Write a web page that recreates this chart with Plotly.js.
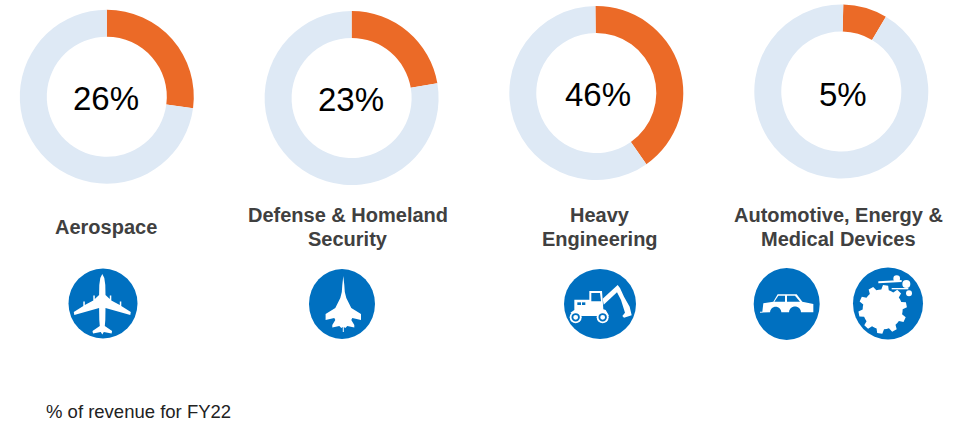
<!DOCTYPE html>
<html>
<head>
<meta charset="utf-8">
<script src="https://cdn.plot.ly/plotly-3.0.1.min.js"></script>
<style>html,body{margin:0;padding:0;background:#fff}#c{width:971px;height:421px}</style>
</head>
<body>
<div id="c"></div>
<script>
const W = 971, H = 421;
const categories = [["Aerospace"], ["Defense & Homeland", "Security"], ["Heavy", "Engineering"], ["Automotive, Energy &", "Medical Devices"]];
const centerLabels = ["26%", "23%", "46%", "5%"];
// shares as the arcs are actually drawn in the picture
const arcShare = [27.1, 22.3, 40.4, 8.2];
const arcRotation = [0, 0, -0.6, 1.3];
const footnote = "% of revenue for FY22";

const donutCx = [106.8, 351.6, 596.3, 841.3];
const donutCy = [96.7, 98, 93, 91.5];
const donutR = 87;
const labelX = [106, 348, 600, 838];
const labelY = [[226.5], [215, 239], [215, 239], [215, 239]];
const centerPos = [[106,98.5],[351,99.5],[597.5,95],[843,94.5]];

const ORANGE = "#EB6A27", PALE = "#DEE9F5", BLUE = "#0070C0", TEXT = "#404040";
const px = x => x / W, py = y => 1 - y / H;

const traces = arcShare.map((v, i) => ({
  type: "pie", values: [v, 100 - v], labels: ["Share", "Rest"], sort: false,
  direction: "clockwise", rotation: arcRotation[i], hole: 0.69, textinfo: "none",
  hoverinfo: "skip", showlegend: false,
  marker: {colors: [ORANGE, PALE], line: {width: 0}},
  domain: {x: [px(donutCx[i] - donutR), px(donutCx[i] + donutR)],
           y: [py(donutCy[i] + donutR), py(donutCy[i] - donutR)]}
}));

const annotations = [];
centerLabels.forEach((t, i) => annotations.push({text: t, xref: "paper", yref: "paper", showarrow: false,
  x: px(centerPos[i][0]), y: py(centerPos[i][1]), xanchor: "center", yanchor: "middle",
  font: {family: "Liberation Sans", size: 33, color: "#000"}}));
categories.forEach((lines, i) => lines.forEach((t, j) => annotations.push({text: "<b>" + t + "</b>", xref: "paper", yref: "paper", showarrow: false,
  x: px(labelX[i]), y: py(labelY[i][j]), xanchor: "center", yanchor: "middle", align: "center",
  font: {family: "Liberation Sans", size: 20, color: TEXT}})));
annotations.push({text: footnote, xref: "paper", yref: "paper", showarrow: false, x: px(43.5), y: py(411),
  xanchor: "left", yanchor: "middle", font: {family: "Liberation Sans", size: 18.5, color: "#222"}});

// ----- icon decoration helpers (pixel coordinates -> paper) -----
const shapes = [];
const ell = (cx, cy, rx, ry, col) => shapes.push({type: "circle", xref: "paper", yref: "paper",
  x0: px(cx - rx), x1: px(cx + rx), y0: py(cy + ry), y1: py(cy - ry), fillcolor: col, line: {width: 0}});
const poly = (pts, col) => shapes.push({type: "path", xref: "paper", yref: "paper", fillcolor: col, line: {width: 0},
  path: "M" + pts.map(p => px(p[0]) + " " + py(p[1])).join("L") + "Z"});
const mirrored = (cx, half) => half.map(p => [cx + p[0], p[1]]).concat(half.slice().reverse().map(p => [cx - p[0], p[1]]));
const z = (ox, oy, pts) => pts.map(p => [ox + p[0] / 3, oy + p[1] / 3]);

// aeroplane
ell(103, 303.5, 34.5, 35, BLUE);
poly(mirrored(102.3, [[0,274],[2,278],[3,285],[3.2,295],[7.5,299],[7.5,295.5],[9,295.5],[9,300.5],[17.5,305],[17.5,301.5],[19,301.5],[19,306],[28.5,312],[28,315],[3.2,308],[3,320],[2.5,326],[9.8,331],[9.3,333.5],[1.5,332],[0,334.5]]), "#fff");

// fighter jet
ell(342, 304, 33, 35, BLUE);
poly(mirrored(343.3, [[0,276],[1,285],[1.5,292],[3,298],[6,304],[8,308],[17.7,314],[17.7,320],[9,318],[8,320],[11,325],[11,327.5],[4,326],[2,328],[0.5,327],[0.5,332]]), "#fff");

// excavator
ell(600, 304, 36, 35, BLUE);
const ox = 555, oy = 260;
poly(z(ox, oy, [[103,93],[141,93],[145,148],[152,150],[162,167],[130,168],[80,168],[46,158],[58,150],[58,119],[103,119]]), "#fff");
poly(z(ox, oy, [[109,99],[135,99],[138,124],[109,124]]), BLUE);
poly(z(ox, oy, [[67,127],[78,127],[78,135],[67,135]]), BLUE);
poly(z(ox, oy, [[81,127],[91,127],[91,135],[81,135]]), BLUE);
poly(z(ox, oy, [[143,116],[188,75],[195,84],[207,110],[224,140],[230,166],[207,173],[202,168],[210,158],[198,120],[186,97],[146,134]]), "#fff");
[[62,172],[143,172]].forEach(c => {
  const q = z(ox, oy, [c])[0];
  ell(q[0], q[1], 6, 6, "#fff"); ell(q[0], q[1], 4.2, 4.2, BLUE); ell(q[0], q[1], 2.4, 2.4, "#fff");
});

// car
ell(786.7, 304, 33, 36, BLUE);
const cx0 = 745, cy0 = 260;
const well = (c, r) => { const a = []; for (let d = 180; d >= 0; d -= 20) a.push([c + r * Math.cos(d * Math.PI / 180), 157 - r * Math.sin(d * Math.PI / 180)]); return a; };
poly(z(cx0, cy0, [[45,155],[52,155],[55,130],[85,125],[98,103],[155,103],[172,125],[205,132],[205,157]].concat(well(150,18).reverse()).concat(well(92,17).reverse()).concat([[45,158]])), "#fff");
poly(z(cx0, cy0, [[88,125],[100,107],[120,107],[120,125]]), BLUE);
poly(z(cx0, cy0, [[126,107],[150,107],[165,125],[126,125]]), BLUE);

// gear with wind puffs
ell(888, 303.5, 35, 36, BLUE);
const gear = [], gc = [413, 148], teeth = 10;
for (let i = 0; i < teeth; i++) {
  const a = (i / teeth) * 2 * Math.PI - 1.45, s = 2 * Math.PI / teeth;
  [[60,-0.5],[60,-0.3],[73,-0.17],[73,0.17],[60,0.3]].forEach(k => {
    const t = a + k[1] * s;
    gear.push([gc[0] + k[0] * Math.cos(t), gc[1] + k[0] * Math.sin(t)]);
  });
}
poly(z(cx0, cy0, gear), "#fff");
poly(z(cx0, cy0, [[400,64],[470,60],[470,66],[400,70]]), "#fff");
poly(z(cx0, cy0, [[440,84],[490,84],[490,88],[440,88]]), "#fff");
[[455,56,10],[484,72,12],[492,100,9]].forEach(c => { const q = z(cx0, cy0, [c])[0]; ell(q[0], q[1], c[2] / 3, c[2] / 3, "#fff"); });

Plotly.newPlot("c", traces, {
  width: W, height: H, margin: {l: 0, r: 0, t: 0, b: 0},
  paper_bgcolor: "#fff", showlegend: false, annotations, shapes
}, {displayModeBar: false, staticPlot: true});
</script>
</body>
</html>
